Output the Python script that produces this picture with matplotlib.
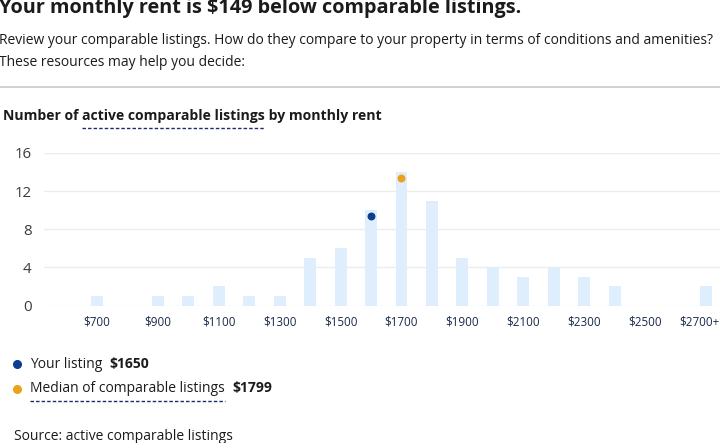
import matplotlib
matplotlib.use("Agg")
import matplotlib.pyplot as plt
from matplotlib.lines import Line2D
import numpy as np

plt.rcParams['font.family'] = ['Open Sans', 'DejaVu Sans']

# ---- data ----
bins = ["$700", "$800", "$900", "$1000", "$1100", "$1200", "$1300", "$1400", "$1500",
        "$1600", "$1700", "$1800", "$1900", "$2000", "$2100", "$2200", "$2300", "$2400",
        "$2500", "$2600", "$2700+"]
counts = [1, 0, 1, 1, 2, 1, 1, 5, 6, 10, 14, 11, 5, 4, 3, 4, 3, 2, 0, 0, 2]
yticks = [0, 4, 8, 12, 16]
your_listing = 1650
median_listing = 1799
your_bin = "$1600"
median_bin = "$1700"

W, H = 720, 443
fig = plt.figure(figsize=(W / 100, H / 100), dpi=100)
fig.patch.set_facecolor("white")

def fy(y):
    return 1 - y / H

def fx(x):
    return x / W

TXT = "#1b1b1b"

# ---- header texts ----
fig.text(fx(-1), fy(8.5), "Your monthly rent is $149 below comparable listings.",
         fontsize=14.3, fontweight="bold", color=TXT, va="center", ha="left")
fig.text(fx(-1), fy(41), "Review your comparable listings. How do they compare to your property in terms of conditions and amenities?",
         fontsize=10.0, color=TXT, va="center", ha="left")
fig.text(fx(-1), fy(63), "These resources may help you decide:",
         fontsize=10.0, color=TXT, va="center", ha="left")
fig.add_artist(Line2D([0, 1], [fy(87), fy(87)], color="#c8c8c8", lw=1.2))

fig.canvas.draw()
renderer = fig.canvas.get_renderer()

def seq_text(x, y, parts, fontsize):
    """parts: list of (text, weight, underline_y)"""
    cur = x
    for txt, weight, underline in parts:
        t = fig.text(fx(cur), fy(y), txt, fontsize=fontsize, fontweight=weight,
                     color=TXT, va="center", ha="left")
        bb = t.get_window_extent(renderer=renderer)
        w = bb.width
        if underline:
            stripped = txt.rstrip()
            if stripped != txt:
                t2 = fig.text(0, 0, stripped, fontsize=fontsize, fontweight=weight)
                w2 = t2.get_window_extent(renderer=renderer).width
                t2.remove()
            else:
                w2 = w
            fig.add_artist(Line2D([fx(cur), fx(cur + w2)], [fy(underline), fy(underline)],
                                  color="#1f2a6b", lw=1.0, linestyle=(0, (2.5, 1.5))))
        cur += w
    return cur

seq_text(3, 116, [("Number of ", "bold", None),
                  ("active comparable listings", "bold", 127.5),
                  (" by monthly rent", "bold", None)], 10.05)

# ---- chart ----
ax = fig.add_axes([fx(44), fy(305.5), 1 - fx(44), fy(153) - fy(305.5)])
x = np.arange(len(bins))
ax.bar(x, counts, width=0.39, color="#dfeefc", zorder=2)

yi = bins.index(your_bin)
mi = bins.index(median_bin)
ax.scatter([x[yi]], [counts[yi] - 0.6], s=22, color="#0d3d8f", zorder=3)
ax.scatter([x[mi]], [counts[mi] - 0.6], s=22, color="#e9a21b", zorder=3)

ax.set_ylim(0, 16)
ax.set_xlim(-1.74, len(bins) - 1 + 0.46)
ax.set_yticks(yticks)
ax.set_yticklabels([str(v) for v in yticks], fontsize=10.8, color="#3a3a3a")
ax.set_xticks(x[::2])
ax.set_xticklabels(bins[::2], fontsize=8.4, color="#1b2a4a")
ax.tick_params(axis="both", length=0)
ax.tick_params(axis="y", pad=9)
ax.tick_params(axis="x", pad=7)
# keep the last label inside the figure
last = ax.get_xticklabels()[-1]
last.set_horizontalalignment("right")
from matplotlib.transforms import ScaledTranslation
last.set_transform(last.get_transform() + ScaledTranslation(0.14, 0, fig.dpi_scale_trans))
for s in ax.spines.values():
    s.set_visible(False)
ax.grid(axis="y", color="#ececec", lw=1, zorder=0)
ax.set_axisbelow(True)

# ---- legend ----
fig.add_artist(Line2D([fx(17)], [fy(364)], marker="o", markersize=5.5,
                      color="#0d3d8f", linestyle="none"))
fig.add_artist(Line2D([fx(17)], [fy(389)], marker="o", markersize=5.5,
                      color="#e9a21b", linestyle="none"))
c = seq_text(30, 364, [("Your listing  ", "normal", None)], 10)
seq_text(c, 364, [(f"${your_listing}", "bold", None)], 10)
c = seq_text(30, 388, [("Median of comparable listings  ", "normal", 401)], 10)
seq_text(c, 388, [(f"${median_listing}", "bold", None)], 10)

fig.text(fx(14), fy(437), "Source: active comparable listings", fontsize=10,
         color=TXT, va="center", ha="left")

fig.savefig("out.png", dpi=100, facecolor="white")
